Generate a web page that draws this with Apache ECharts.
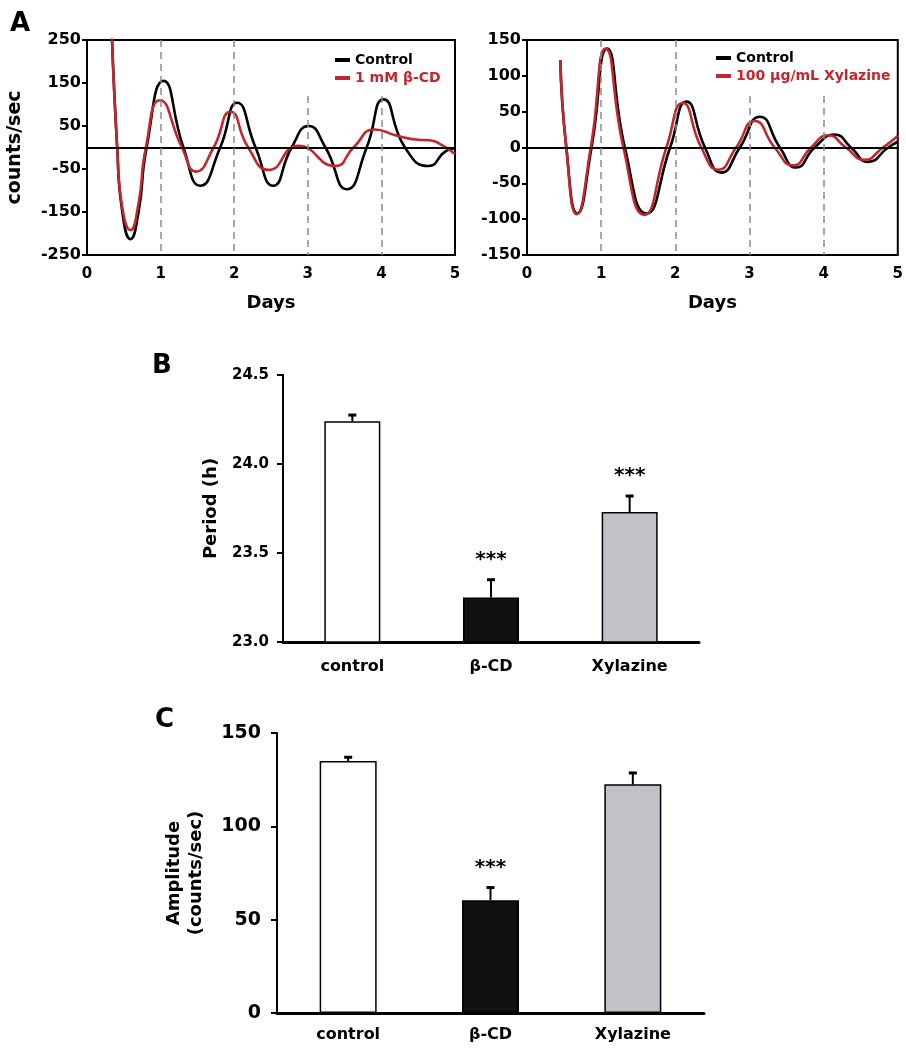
<!DOCTYPE html>
<html>
<head>
<meta charset="utf-8">
<script src="https://cdn.jsdelivr.net/npm/echarts@6/dist/echarts.min.js"></script>
<style>
  html, body { margin: 0; padding: 0; background: #fff; }
  #chart { width: 906px; height: 1050px; }
</style>
</head>
<body>
<div id="chart"></div>
<script>
// ---------- Panel A data (day, counts/sec) ----------
const leftControl = [[0.33, 300], [0.41, 0], [0.48, -150], [0.59, -213], [0.70, -150], [0.81, 0], [1.04, 155], [1.31, 0], [1.54, -89], [1.81, 0], [2.04, 104], [2.29, 0], [2.53, -89], [2.78, 0], [3.01, 50], [3.24, 0], [3.53, -97], [3.80, 0], [4.03, 112], [4.32, 0], [4.64, -43], [4.88, -8], [5.0, -2]];
const leftBCD = [[0.33, 300], [0.41, 0], [0.48, -140], [0.59, -192], [0.70, -130], [0.80, 0], [0.99, 110], [1.29, 0], [1.48, -56], [1.72, 0], [1.95, 83], [2.19, 0], [2.47, -52], [2.87, 4], [3.37, -43], [3.62, 0], [3.91, 42], [4.2, 28], [4.5, 18], [4.65, 17], [4.8, 8], [5.0, -15]];
const rightControl = [[0.45, 122], [0.53, 0], [0.68, -92], [0.87, 0], [1.08, 138], [1.32, 0], [1.61, -92], [1.93, 0], [2.15, 64], [2.40, 0], [2.62, -35], [2.87, 0], [3.14, 43], [3.41, 0], [3.63, -28], [3.88, 0], [4.15, 18], [4.37, 0], [4.60, -20], [4.87, 0], [5.0, 8]];
const rightXylazine = [[0.45, 122], [0.53, 0], [0.67, -93], [0.86, 0], [1.06, 138], [1.30, 0], [1.58, -94], [1.88, 0], [2.10, 62], [2.35, 0], [2.58, -31], [2.82, 0], [3.07, 37], [3.34, 0], [3.59, -25], [3.83, 0], [4.06, 17], [4.30, 0], [4.55, -17], [4.80, 0], [5.0, 16]];
const dayMarks = [1, 2, 3, 4];
const leftMarkTops = [250, 250, 120, 120];
const rightMarkTops = [150, 150, 72, 72];
const leftTickLabels = [-250, -150, -50, 50, 150, 250];

// ---------- Panels B / C data ----------
const categories = ['control', 'β-CD', 'Xylazine'];
const periodMeans = [24.24, 23.25, 23.73];
const periodErrs = [0.035, 0.10, 0.09];
const amplitudeMeans = [135, 60.4, 122.5];
const amplitudeErrs = [2, 6.8, 6.1];
const sigLabels = ['', '***', '***'];
const ampSigLabels = ['', '***', ''];
const barColors = ['#ffffff', '#111111', '#c1c2c7'];

const RED = '#c1272d';
const FONT = 'DejaVu Sans';

const chart = echarts.init(document.getElementById('chart'), null, { renderer: 'canvas' });

function dashLines(tops, bottom) {
  return dayMarks.map((d, i) => [{ coord: [d, tops[i]] }, { coord: [d, bottom] }]);
}

function errRender(errs, sigs) {
  return function (params, api) {
    const i = params.dataIndex;
    const base = api.coord([api.value(0), api.value(1)]);
    const top = api.coord([api.value(0), api.value(1) + errs[i]]);
    const children = [
      { type: 'line', shape: { x1: base[0], y1: base[1], x2: top[0], y2: top[1] }, style: { stroke: '#000', lineWidth: 2 } },
      { type: 'line', shape: { x1: top[0] - 4, y1: top[1], x2: top[0] + 4, y2: top[1] }, style: { stroke: '#000', lineWidth: 3 } }
    ];
    if (sigs[i]) {
      children.push({ type: 'text', style: { text: sigs[i], x: top[0], y: top[1] - 10, align: 'center', verticalAlign: 'bottom', font: 'bold 20px "DejaVu Sans"', fill: '#000' } });
    }
    return { type: 'group', children };
  };
}

const axisTextA = { color: '#000', fontWeight: 'bold', fontFamily: FONT };

function lineXAxis(gi) {
  return {
    type: 'value', gridIndex: gi, min: 0, max: 5, interval: 1,
    axisLine: { show: true, lineStyle: { color: '#000', width: 2 } },
    axisTick: { show: false },
    splitLine: { show: false },
    axisLabel: Object.assign({ fontSize: 15, margin: 12 }, axisTextA),
    name: 'Days', nameLocation: 'middle', nameGap: 39,
    nameTextStyle: Object.assign({ fontSize: 18 }, axisTextA)
  };
}

function refLines(tops, bottom) {
  return [[{ coord: [0, 0] }, { coord: [5, 0] }]].concat(dashLines(tops, bottom)).map((d, i) => i === 0
    ? d.map(p => Object.assign({ lineStyle: { color: '#000', width: 2, type: 'solid' } }, p))
    : d.map(p => Object.assign({ lineStyle: { color: '#8a8a8a', width: 1.5, type: [7, 5] } }, p)));
}

const option = {
  animation: false,
  backgroundColor: '#fff',
  textStyle: { fontFamily: FONT },
  title: [
    { text: 'A', left: 5, top: 6, textStyle: { fontSize: 26, fontWeight: 'bold', color: '#000', fontFamily: FONT } },
    { text: 'B', left: 147, top: 348, textStyle: { fontSize: 26, fontWeight: 'bold', color: '#000', fontFamily: FONT } },
    { text: 'C', left: 150, top: 702, textStyle: { fontSize: 26, fontWeight: 'bold', color: '#000', fontFamily: FONT } }
  ],
  legend: [
    {
      left: 330, top: 47, orient: 'vertical', itemGap: 2, itemWidth: 15, itemHeight: 4, icon: 'rect', selectedMode: false,
      textStyle: { fontSize: 14, fontWeight: 'bold', fontFamily: FONT, color: '#000', lineHeight: 16 },
      data: [{ name: 'Control' }, { name: '1 mM β-CD', textStyle: { color: RED } }]
    },
    {
      left: 711, top: 45, orient: 'vertical', itemGap: 2, itemWidth: 15, itemHeight: 4, icon: 'rect', selectedMode: false,
      textStyle: { fontSize: 14, fontWeight: 'bold', fontFamily: FONT, color: '#000', lineHeight: 16 },
      data: [{ name: 'Control' }, { name: '100 μg/mL Xylazine', textStyle: { color: RED } }]
    }
  ],
  grid: [
    { left: 87, top: 40, width: 368, height: 215, show: true, borderColor: '#000', borderWidth: 2, backgroundColor: 'transparent' },
    { left: 527, top: 40, width: 371, height: 215, show: true, borderColor: '#000', borderWidth: 2, backgroundColor: 'transparent' },
    { left: 283, top: 375, width: 416, height: 267 },
    { left: 277, top: 733, width: 427, height: 280 }
  ],
  xAxis: [
    lineXAxis(0),
    lineXAxis(1),
    {
      type: 'category', gridIndex: 2, data: categories,
      axisLine: { lineStyle: { color: '#000', width: 3 } }, axisTick: { show: false },
      axisLabel: Object.assign({ fontSize: 16, margin: 17 }, axisTextA)
    },
    {
      type: 'category', gridIndex: 3, data: categories,
      axisLine: { lineStyle: { color: '#000', width: 3 } }, axisTick: { show: false },
      axisLabel: Object.assign({ fontSize: 16, margin: 14 }, axisTextA)
    }
  ],
  yAxis: [
    {
      type: 'value', gridIndex: 0, min: -250, max: 250, interval: 50,
      axisLine: { show: true, lineStyle: { color: '#000', width: 2 } },
      axisTick: { show: true, length: 5, lineStyle: { color: '#000', width: 2 }, customValues: leftTickLabels },
      axisLabel: Object.assign({ fontSize: 16, margin: 6, customValues: leftTickLabels }, axisTextA),
      splitLine: { show: false },
      name: 'counts/sec', nameLocation: 'middle', nameGap: 62,
      nameTextStyle: Object.assign({ fontSize: 19 }, axisTextA)
    },
    {
      type: 'value', gridIndex: 1, min: -150, max: 150, interval: 50,
      axisLine: { show: true, lineStyle: { color: '#000', width: 2 } },
      axisTick: { show: true, length: 5, lineStyle: { color: '#000', width: 2 } },
      axisLabel: Object.assign({ fontSize: 16, margin: 6 }, axisTextA),
      splitLine: { show: false }
    },
    {
      type: 'value', gridIndex: 2, min: 23, max: 24.5, interval: 0.5,
      axisLine: { show: true, lineStyle: { color: '#000', width: 2 } },
      axisTick: { show: true, length: 6, lineStyle: { color: '#000', width: 2 } },
      axisLabel: Object.assign({ fontSize: 15, margin: 14, formatter: v => v.toFixed(1) }, axisTextA),
      splitLine: { show: false },
      name: 'Period (h)', nameLocation: 'middle', nameGap: 63,
      nameTextStyle: Object.assign({ fontSize: 18 }, axisTextA)
    },
    {
      type: 'value', gridIndex: 3, min: 0, max: 150, interval: 50,
      axisLine: { show: true, lineStyle: { color: '#000', width: 2 } },
      axisTick: { show: true, length: 6, lineStyle: { color: '#000', width: 2 } },
      axisLabel: Object.assign({ fontSize: 19, margin: 16 }, axisTextA),
      splitLine: { show: false },
      name: 'Amplitude\n(counts/sec)', nameLocation: 'middle', nameGap: 70,
      nameTextStyle: Object.assign({ fontSize: 18, lineHeight: 22 }, axisTextA)
    }
  ],
  series: [
    {
      name: 'refsLeft', type: 'line', xAxisIndex: 0, yAxisIndex: 0, data: [], silent: true,
      markLine: { silent: true, symbol: ['none', 'none'], label: { show: false }, data: refLines(leftMarkTops, -250) }
    },
    {
      name: 'refsRight', type: 'line', xAxisIndex: 1, yAxisIndex: 1, data: [], silent: true,
      markLine: { silent: true, symbol: ['none', 'none'], label: { show: false }, data: refLines(rightMarkTops, -150) }
    },
    { name: 'Control', type: 'line', xAxisIndex: 0, yAxisIndex: 0, data: leftControl, smooth: 0.55, showSymbol: false, color: '#000', lineStyle: { color: '#000', width: 2.6 }, clip: true, z: 3 },
    { name: '1 mM β-CD', type: 'line', xAxisIndex: 0, yAxisIndex: 0, data: leftBCD, smooth: 0.55, showSymbol: false, color: RED, lineStyle: { color: RED, width: 2.6 }, clip: true, z: 4 },
    { name: 'Control', type: 'line', xAxisIndex: 1, yAxisIndex: 1, data: rightControl, smooth: 0.55, showSymbol: false, color: '#000', lineStyle: { color: '#000', width: 2.6 }, clip: true, z: 3 },
    { name: '100 μg/mL Xylazine', type: 'line', xAxisIndex: 1, yAxisIndex: 1, data: rightXylazine, smooth: 0.55, showSymbol: false, color: RED, lineStyle: { color: RED, width: 2.6 }, clip: true, z: 4 },
    {
      name: 'period', type: 'bar', xAxisIndex: 2, yAxisIndex: 2, barWidth: 56, silent: true,
      data: periodMeans.map((v, i) => ({ value: v, itemStyle: { color: barColors[i], borderColor: '#000', borderWidth: 1.5 } }))
    },
    {
      name: 'periodErr', type: 'custom', xAxisIndex: 2, yAxisIndex: 2, silent: true, z: 5,
      data: periodMeans.map((v, i) => [i, v]),
      renderItem: errRender(periodErrs, sigLabels)
    },
    {
      name: 'amplitude', type: 'bar', xAxisIndex: 3, yAxisIndex: 3, barWidth: 57, silent: true,
      data: amplitudeMeans.map((v, i) => ({ value: v, itemStyle: { color: barColors[i], borderColor: '#000', borderWidth: 1.5 } }))
    },
    {
      name: 'amplitudeErr', type: 'custom', xAxisIndex: 3, yAxisIndex: 3, silent: true, z: 5,
      data: amplitudeMeans.map((v, i) => [i, v]),
      renderItem: errRender(amplitudeErrs, ampSigLabels)
    }
  ]
};

chart.setOption(option);
</script>
</body>
</html>
